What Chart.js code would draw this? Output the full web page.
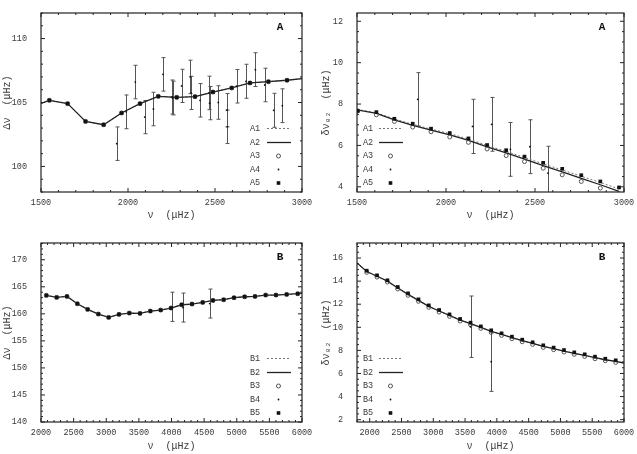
<!DOCTYPE html>
<html>
<head>
<meta charset="utf-8">
<script src="https://cdn.jsdelivr.net/npm/chart.js@4.4.0/dist/chart.umd.min.js"></script>
<style>
  body { margin: 0; background: #fff; width: 637px; height: 454px; position: relative; overflow: hidden; }
  canvas { position: absolute; }
</style>
</head>
<body>
<canvas id="aDnu"></canvas>
<canvas id="aD02"></canvas>
<canvas id="bDnu"></canvas>
<canvas id="bD02"></canvas>
<script>
// ---- star A : large separation ----
const nuA = [1548, 1653, 1756, 1860, 1963, 2069, 2174, 2280, 2385, 2488, 2596, 2701, 2807, 2914];
const dnuA = [105.17, 104.91, 103.52, 103.26, 104.18, 104.91, 105.48, 105.40, 105.46, 105.82, 106.14, 106.53, 106.63, 106.74];
const nuALine = [1500, 1548, 1653, 1756, 1860, 1963, 2069, 2174, 2280, 2385, 2488, 2596, 2701, 2807, 2914, 3000];
const dnuALine = [104.93, 105.17, 104.91, 103.52, 103.26, 104.18, 104.91, 105.48, 105.40, 105.46, 105.82, 106.14, 106.53, 106.63, 106.74, 106.87];
// observed values with error bars (A4)
const nuAObs = [1935, 1990, 2042, 2096, 2146, 2201, 2253, 2256, 2308, 2358, 2362, 2414, 2466, 2469, 2519, 2569, 2571, 2624, 2678, 2732, 2786, 2837, 2887];
const dnuAObs = [101.78, 104.27, 106.60, 103.86, 104.49, 107.20, 105.43, 105.35, 106.30, 107.00, 105.75, 105.17, 105.75, 104.95, 105.00, 104.40, 103.10, 106.27, 106.66, 107.57, 106.37, 104.39, 104.75];
const dnuAErr = [1.31, 1.32, 1.31, 1.30, 1.31, 1.31, 1.33, 1.32, 1.30, 1.31, 1.30, 1.31, 1.31, 1.30, 1.31, 1.30, 1.31, 1.31, 1.33, 1.32, 1.31, 1.33, 1.32];

// ---- star A : small separation ----
const nuA02Line = [1500, 1609, 1710, 1813, 1916, 2021, 2126, 2231, 2338, 2441, 2546, 2653, 2760, 2867, 2972];
const d02A1 = [7.74, 7.58, 7.28, 7.02, 6.79, 6.57, 6.31, 6.00, 5.71, 5.42, 5.11, 4.81, 4.51, 4.21, 3.90];
const d02A2 = [7.72, 7.55, 7.24, 6.97, 6.74, 6.51, 6.25, 5.93, 5.64, 5.34, 5.03, 4.72, 4.41, 4.10, 3.78];
const nuA02 = [1504, 1609, 1710, 1813, 1916, 2021, 2126, 2231, 2338, 2441, 2546, 2653, 2760, 2867, 2972];
const d02A3 = [7.67, 7.48, 7.16, 6.89, 6.66, 6.41, 6.15, 5.83, 5.51, 5.22, 4.90, 4.58, 4.26, 3.94, 3.66];
const d02A5 = [7.67, 7.61, 7.29, 7.05, 6.81, 6.60, 6.34, 6.02, 5.77, 5.46, 5.16, 4.87, 4.56, 4.26, 3.97];
const nuA02Obs = [1841, 2149, 2256, 2362, 2471, 2573];
const d02AObs = [8.23, 6.92, 7.02, 5.81, 5.94, 4.66];
const d02AErr = [1.29, 1.31, 1.30, 1.30, 1.30, 1.30];

// ---- star B : large separation ----
const nuB = [2082, 2240, 2398, 2557, 2715, 2879, 3037, 3195, 3354, 3517, 3676, 3834, 3992, 4156, 4314, 4478, 4636, 4799, 4958, 5121, 5280, 5443, 5601, 5765, 5934];
const dnuB = [163.41, 163.04, 163.22, 161.87, 160.82, 159.96, 159.34, 159.90, 160.14, 160.08, 160.51, 160.70, 161.07, 161.68, 161.81, 162.11, 162.48, 162.61, 162.98, 163.16, 163.22, 163.47, 163.47, 163.59, 163.72];
const nuBLine = [2082, 2240, 2398, 2557, 2715, 2879, 3037, 3195, 3354, 3517, 3676, 3834, 3992, 4156, 4314, 4478, 4636, 4799, 4958, 5121, 5280, 5443, 5601, 5765, 5934, 6000];
const dnuBLine = [163.41, 163.04, 163.22, 161.87, 160.82, 159.96, 159.34, 159.90, 160.14, 160.08, 160.51, 160.70, 161.07, 161.68, 161.81, 162.11, 162.48, 162.61, 162.98, 163.16, 163.22, 163.47, 163.47, 163.59, 163.72, 163.78];
const nuBObs = [4008, 4176, 4585];
const dnuBObs = [161.30, 161.16, 161.90];
const dnuBErr = [2.70, 2.68, 2.68];

// ---- star B : small separation ----
const nuB02 = [1953, 2115, 2279, 2441, 2603, 2767, 2929, 3092, 3255, 3422, 3586, 3748, 3911, 4074, 4237, 4399, 4563, 4730, 4893, 5056, 5218, 5382, 5544, 5706, 5870];
const d02B3 = [14.76, 14.35, 13.92, 13.32, 12.77, 12.25, 11.73, 11.32, 10.95, 10.54, 10.23, 9.91, 9.56, 9.30, 9.01, 8.75, 8.52, 8.26, 8.06, 7.86, 7.66, 7.48, 7.28, 7.11, 6.96];
const d02B5 = [14.90, 14.50, 14.07, 13.49, 12.94, 12.42, 11.90, 11.50, 11.12, 10.72, 10.40, 10.08, 9.74, 9.48, 9.19, 8.93, 8.70, 8.44, 8.24, 8.03, 7.83, 7.66, 7.46, 7.28, 7.14];
const nuB02Line = [1800, 1953, 2115, 2279, 2441, 2603, 2767, 2929, 3092, 3255, 3422, 3586, 3748, 3911, 4074, 4237, 4399, 4563, 4730, 4893, 5056, 5218, 5382, 5544, 5706, 5870, 6000];
const d02BLine = [15.57, 14.83, 14.42, 14.00, 13.40, 12.85, 12.33, 11.81, 11.41, 11.03, 10.63, 10.31, 9.99, 9.65, 9.39, 9.10, 8.84, 8.61, 8.35, 8.15, 7.94, 7.74, 7.57, 7.37, 7.19, 7.05, 6.91];
const nuB02Obs = [3586, 3911];
const d02BObs = [10.05, 7.02];
const d02BErr = [2.66, 2.57];

// tick labels
const xTicksA = [1500, 2000, 2500, 3000];
const xTicksB = [2000, 2500, 3000, 3500, 4000, 4500, 5000, 5500, 6000];
const yTicksADnu = [100, 105, 110];
const yTicksAD02 = [4, 6, 8, 10, 12];
const yTicksBDnu = [140, 145, 150, 155, 160, 165, 170];
const yTicksBD02 = [2, 4, 6, 8, 10, 12, 14, 16];

const MONO = '"Liberation Mono", "DejaVu Sans Mono", monospace';
const INK = '#222';
const TXT = '#3a3a3a';

function pts(xs, ys) {
  return xs.map((x, i) => ({ x: x, y: ys[i] }));
}

// the five series of one panel: 1 dotted, 2 solid, 3 circles, 4 observed dots, 5 squares
function series(star, line1, line2, circ, obs, squares) {
  return [
    { label: star + '5', data: squares, showLine: false, pointStyle: 'rect', pointRadius: 2.6,
      backgroundColor: '#111', borderColor: '#111', borderWidth: 0, order: 1 },
    { label: star + '4', data: obs, showLine: false, pointStyle: 'circle', pointRadius: 0.9,
      backgroundColor: '#111', borderColor: '#111', borderWidth: 0, order: 2 },
    { label: star + '3', data: circ, showLine: false, pointStyle: 'circle', pointRadius: 2,
      backgroundColor: 'rgba(255,255,255,0)', borderColor: '#555', borderWidth: 1, order: 3 },
    { label: star + '2', data: line2, showLine: true, pointRadius: 0, borderColor: INK, borderWidth: 1.3, order: 4 },
    { label: star + '1', data: line1, showLine: true, pointRadius: 0, borderColor: '#777', borderWidth: 1,
      borderDash: [2, 2], order: 5 }
  ];
}

function gnuplotLook(p) {
  return {
    id: 'gnuplotLook',
    beforeDatasetsDraw(chart) {
      const { ctx, chartArea: a, scales: { x, y } } = chart;
      ctx.save();
      ctx.beginPath();
      ctx.rect(a.left, a.top, a.right - a.left, a.bottom - a.top);
      ctx.clip();
      ctx.strokeStyle = '#555';
      ctx.lineWidth = 1;
      p.err.x.forEach((v, i) => {
        const px = Math.round(x.getPixelForValue(v)) + 0.5;
        const y1 = y.getPixelForValue(p.err.y[i] - p.err.e[i]);
        const y2 = y.getPixelForValue(p.err.y[i] + p.err.e[i]);
        ctx.beginPath();
        ctx.moveTo(px, y1); ctx.lineTo(px, y2);
        ctx.moveTo(px - 2, y1); ctx.lineTo(px + 2, y1);
        ctx.moveTo(px - 2, y2); ctx.lineTo(px + 2, y2);
        ctx.stroke();
      });
      ctx.restore();
    },
    afterDraw(chart) {
      const { ctx, chartArea: a, scales: { x, y } } = chart;
      ctx.save();
      ctx.strokeStyle = INK;
      ctx.lineWidth = 1.2;
      ctx.strokeRect(a.left, a.top, a.right - a.left, a.bottom - a.top);
      ctx.lineWidth = 1;
      ctx.beginPath();
      // minor + major ticks, pointing inward on all four sides
      for (let v = x.min; v <= x.max + 1e-9; v += p.xMinor) {
        const px = x.getPixelForValue(v);
        const len = p.xTicks.includes(Math.round(v)) ? 4 : 2;
        ctx.moveTo(px, a.bottom); ctx.lineTo(px, a.bottom - len);
        ctx.moveTo(px, a.top); ctx.lineTo(px, a.top + len);
      }
      const y0 = Math.ceil(y.min / p.yMinor) * p.yMinor;
      for (let v = y0; v <= y.max + 1e-9; v += p.yMinor) {
        const py = y.getPixelForValue(v);
        const major = p.yTicks.some(t => Math.abs(t - v) < 1e-6);
        const len = major ? 4 : 2;
        ctx.moveTo(a.left, py); ctx.lineTo(a.left + len, py);
        ctx.moveTo(a.right, py); ctx.lineTo(a.right - len, py);
      }
      ctx.stroke();

      // panel tag
      ctx.fillStyle = '#111';
      ctx.font = 'bold 11px ' + MONO;
      ctx.textAlign = 'center';
      ctx.textBaseline = 'middle';
      ctx.fillText(p.tag, a.right - 22, a.top + 14);

      // key
      const rows = [-63.5, -49.5, -36, -22.5, -9];
      const tx = p.keyLeft ? a.left + 6 : a.right - 52;
      const s0 = p.keyLeft ? a.left + 22 : a.right - 35;
      const s1 = s0 + 24;
      const sm = s0 + 11.5;
      ctx.font = '8.5px ' + MONO;
      ctx.textAlign = 'left';
      for (let k = 0; k < 5; k++) {
        const ry = a.bottom + rows[k];
        ctx.fillStyle = TXT;
        ctx.fillText(p.tag + (k + 1), tx, ry);
        ctx.beginPath();
        if (k === 0) {
          ctx.strokeStyle = '#777'; ctx.lineWidth = 1; ctx.setLineDash([2, 2]);
          ctx.moveTo(s0, ry); ctx.lineTo(s1, ry); ctx.stroke();
          ctx.setLineDash([]);
        } else if (k === 1) {
          ctx.strokeStyle = INK; ctx.lineWidth = 1.3;
          ctx.moveTo(s0, ry); ctx.lineTo(s1, ry); ctx.stroke();
        } else if (k === 2) {
          ctx.strokeStyle = '#555'; ctx.lineWidth = 1;
          ctx.arc(sm, ry, 2, 0, Math.PI * 2); ctx.stroke();
        } else if (k === 3) {
          ctx.fillStyle = '#111';
          ctx.arc(sm, ry, 0.9, 0, Math.PI * 2); ctx.fill();
        } else {
          ctx.fillStyle = '#111';
          ctx.fillRect(sm - 1.8, ry - 1.8, 3.6, 3.6);
        }
      }
      ctx.restore();
    }
  };
}

function panel(id, box, area, p) {
  const cv = document.getElementById(id);
  cv.width = box.w;
  cv.height = box.h;
  cv.style.left = box.x + 'px';
  cv.style.top = box.y + 'px';
  const tickFont = { family: MONO, size: 8.5 };
  const titleFont = { family: MONO, size: 10 };
  new Chart(cv, {
    type: 'scatter',
    data: { datasets: p.datasets },
    options: {
      responsive: false,
      animation: false,
      events: [],
      layout: { padding: { left: 0, bottom: 0, top: area.t - box.y, right: box.x + box.w - area.r } },
      plugins: { legend: { display: false }, tooltip: { enabled: false } },
      scales: {
        x: {
          type: 'linear', min: p.xMin, max: p.xMax,
          afterBuildTicks: s => { s.ticks = p.xTicks.map(v => ({ value: v })); },
          afterFit: s => { s.height = box.y + box.h - area.b; },
          grid: { display: false }, border: { display: false },
          ticks: { font: tickFont, color: TXT, padding: -2, autoSkip: false, maxRotation: 0, callback: v => String(v) },
          title: { display: true, text: 'ν  (μHz)', font: titleFont, color: TXT, padding: { top: 0, bottom: 0 } }
        },
        y: {
          type: 'linear', min: p.yMin, max: p.yMax,
          afterBuildTicks: s => { s.ticks = p.yTicks.map(v => ({ value: v })); },
          afterFit: s => { s.width = area.l - box.x; },
          grid: { display: false }, border: { display: false },
          ticks: { font: tickFont, color: TXT, padding: 6, autoSkip: false, callback: v => String(v) },
          title: { display: true, text: p.yTitle, font: titleFont, color: TXT, padding: { top: p.yTitlePad, bottom: 0 } }
        }
      }
    },
    plugins: [gnuplotLook(p)]
  });
}

panel('aDnu', { x: 0, y: 0, w: 318, h: 221 }, { l: 41, t: 13, r: 302, b: 192 }, {
  tag: 'A', keyLeft: false, yTitle: 'Δν  (μHz)', yTitlePad: 1,
  xMin: 1500, xMax: 3000, xTicks: xTicksA, xMinor: 100,
  yMin: 98, yMax: 112, yTicks: yTicksADnu, yMinor: 1,
  err: { x: nuAObs, y: dnuAObs, e: dnuAErr },
  datasets: series('A', pts(nuALine, dnuALine), pts(nuALine, dnuALine), pts(nuA, dnuA), pts(nuAObs, dnuAObs), pts(nuA, dnuA))
});

panel('aD02', { x: 318, y: 0, w: 319, h: 221 }, { l: 357, t: 13, r: 624, b: 192 }, {
  tag: 'A', keyLeft: true, yTitle: 'δν₀₂  (μHz)', yTitlePad: 2,
  xMin: 1500, xMax: 3000, xTicks: xTicksA, xMinor: 100,
  yMin: 3.75, yMax: 12.4, yTicks: yTicksAD02, yMinor: 0.5,
  err: { x: nuA02Obs, y: d02AObs, e: d02AErr },
  datasets: series('A', pts(nuA02Line, d02A1), pts(nuA02Line, d02A2), pts(nuA02, d02A3), pts(nuA02Obs, d02AObs), pts(nuA02, d02A5))
});

panel('bDnu', { x: 0, y: 227, w: 318, h: 225 }, { l: 41, t: 243, r: 302, b: 422 }, {
  tag: 'B', keyLeft: false, yTitle: 'Δν  (μHz)', yTitlePad: 1,
  xMin: 2000, xMax: 6000, xTicks: xTicksB, xMinor: 100,
  yMin: 140, yMax: 173.1, yTicks: yTicksBDnu, yMinor: 1,
  err: { x: nuBObs, y: dnuBObs, e: dnuBErr },
  datasets: series('B', pts(nuBLine, dnuBLine), pts(nuBLine, dnuBLine), pts(nuB, dnuB), pts(nuBObs, dnuBObs), pts(nuB, dnuB))
});

panel('bD02', { x: 318, y: 227, w: 319, h: 225 }, { l: 357, t: 243, r: 624, b: 422 }, {
  tag: 'B', keyLeft: true, yTitle: 'δν₀₂  (μHz)', yTitlePad: 2,
  xMin: 1800, xMax: 6000, xTicks: xTicksB, xMinor: 100,
  yMin: 1.8, yMax: 17.3, yTicks: yTicksBD02, yMinor: 0.5,
  err: { x: nuB02Obs, y: d02BObs, e: d02BErr },
  datasets: series('B', pts(nuB02Line, d02BLine), pts(nuB02Line, d02BLine), pts(nuB02, d02B3), pts(nuB02Obs, d02BObs), pts(nuB02, d02B5))
});
</script>
</body>
</html>
